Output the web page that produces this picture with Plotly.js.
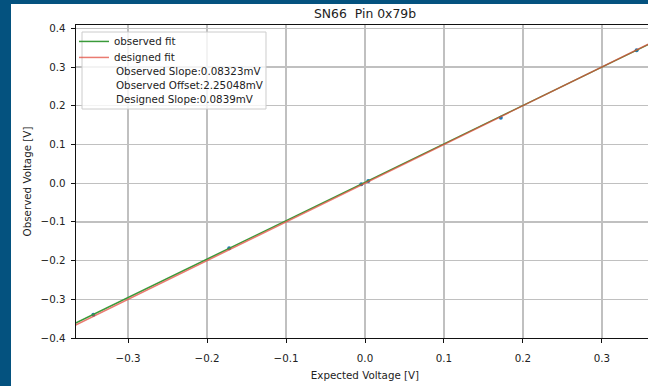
<!DOCTYPE html>
<html>
<head>
<meta charset="utf-8">
<script src="https://cdn.plot.ly/plotly-3.0.1.min.js"></script>
<style>
html, body { margin: 0; padding: 0; width: 648px; height: 386px; overflow: hidden; background: #04527f; }
#chart { position: absolute; left: 11px; top: 4px; width: 660px; height: 382px; }
</style>
</head>
<body>
<div id="chart"></div>
<script>
// measured points
const expectedV = [-0.344, -0.172, -0.0047, 0.0042, 0.172, 0.344];
const observedV = [-0.340, -0.168, -0.0030, 0.0054, 0.169, 0.343];
// fit lines (end points)
const fitX = [-0.37, 0.37];
const observedFitY = [-0.3648, 0.3693];
const designedFitY = [-0.37, 0.37];
const legendTexts = ['Observed Slope:0.08323mV', 'Observed Offset:2.25048mV', 'Designed Slope:0.0839mV'];
const xTicks = [-0.3, -0.2, -0.1, 0.0, 0.1, 0.2, 0.3];
const yTicks = [-0.4, -0.3, -0.2, -0.1, 0.0, 0.1, 0.2, 0.3, 0.4];

const font = 'DejaVu Sans, sans-serif';

const traces = [
  { x: expectedV, y: observedV, mode: 'markers', type: 'scatter', showlegend: false,
    marker: { color: '#1f77b4', size: 4 } },
  { x: fitX, y: observedFitY, mode: 'lines', type: 'scatter', name: 'observed fit', legend: 'legend',
    line: { color: '#3a9a3a', width: 1.5 } },
  { x: fitX, y: designedFitY, mode: 'lines', type: 'scatter', name: 'designed fit', legend: 'legend2',
    line: { color: 'rgba(226,72,58,0.72)', width: 1.5 } }
];

const annY = [0.853, 0.8083, 0.7636];
const annotations = legendTexts.map((t, i) => ({
  text: t, xref: 'paper', yref: 'paper', x: 0.0657, y: annY[i],
  xanchor: 'left', yanchor: 'middle', showarrow: false,
  font: { family: font, size: 10.3, color: '#222' }
}));

const legendBase = { xanchor: 'left', yanchor: 'top', x: -0.0035,
  bgcolor: 'rgba(0,0,0,0)', borderwidth: 0, itemwidth: 30,
  font: { family: font, size: 10.3, color: '#222' } };

const layout = {
  width: 660, height: 382,
  margin: { l: 65, r: 17, t: 21, b: 48 },
  paper_bgcolor: '#ffffff', plot_bgcolor: '#ffffff',
  font: { family: font, size: 10.3, color: '#222' },
  title: { text: 'SN66\u00a0\u00a0Pin 0x79b', font: { family: font, size: 12.4, color: '#222' },
    xref: 'paper', x: 0.5, xanchor: 'center', yref: 'container', y: 0.976, yanchor: 'middle' },
  xaxis: {
    range: [-0.366, 0.366], tickvals: xTicks, tickformat: '.1f',
    showgrid: true, gridcolor: '#c0c0c0', gridwidth: 1.3, zeroline: false,
    showline: true, linecolor: '#111', linewidth: 1.3, mirror: true,
    ticks: 'outside', ticklen: 4, tickwidth: 1, tickcolor: '#111', ticklabelstandoff: 6,
    title: { text: 'Expected Voltage [V]', font: { family: font, size: 10.3 } }
  },
  yaxis: {
    range: [-0.4, 0.4085], tickvals: yTicks, tickformat: '.1f',
    showgrid: true, gridcolor: '#c0c0c0', gridwidth: 1.3, zeroline: false,
    showline: true, linecolor: '#111', linewidth: 1.3, mirror: true,
    ticks: 'outside', ticklen: 4, tickwidth: 1, tickcolor: '#111', ticklabelstandoff: 3,
    title: { text: 'Observed Voltage [V]', font: { family: font, size: 10.3 }, standoff: 7 }
  },
  showlegend: true,
  legend: Object.assign({}, legendBase, { y: 0.9938 }),
  legend2: Object.assign({}, legendBase, { y: 0.9427 }),
  shapes: [{ type: 'rect', xref: 'paper', yref: 'paper', x0: 0.0104, x1: 0.3287, y0: 0.7316, y1: 0.9776,
    line: { color: '#cccccc', width: 1 }, fillcolor: 'rgba(255,255,255,0.8)', layer: 'above' }],
  annotations: annotations
};

Plotly.newPlot('chart', traces, layout, { displayModeBar: false, staticPlot: true });
</script>
</body>
</html>
